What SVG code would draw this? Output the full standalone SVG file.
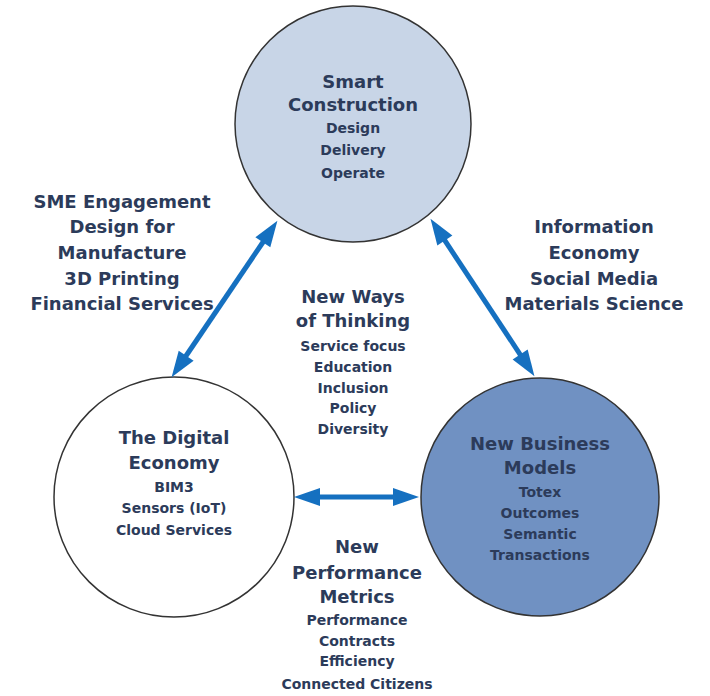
<svg xmlns="http://www.w3.org/2000/svg" width="710" height="696" viewBox="0 0 710 696">
<style>
text{font-family:"DejaVu Sans","Liberation Sans",sans-serif;font-weight:bold;fill:#2c3b5a;text-anchor:middle}
.b{font-size:18px}
.s{font-size:14px}
.c{stroke:#333;stroke-width:1.5}
.a{stroke:#1570c0;stroke-width:5;fill:none;marker-start:url(#ah);marker-end:url(#ah)}
</style>
<defs>
<marker id="ah" markerUnits="userSpaceOnUse" markerWidth="30" markerHeight="20" refX="1" refY="0" orient="auto-start-reverse" overflow="visible">
<path d="M0,-9 L26,0 L0,9 Z" fill="#1570c0"/>
</marker>
</defs>
<rect width="710" height="696" fill="#fff"/>
<g id="smart-construction">
<circle class="c" cx="353" cy="124" r="118" fill="#c8d5e7"/>
<text class="b" x="353" y="88">Smart</text>
<text class="b" x="353" y="111">Construction</text>
<text class="s" x="353" y="133">Design</text>
<text class="s" x="353" y="155">Delivery</text>
<text class="s" x="353" y="178">Operate</text>
</g>
<g id="digital-economy">
<circle class="c" cx="174" cy="497" r="120" fill="#fff"/>
<text class="b" x="174" y="444">The Digital</text>
<text class="b" x="174" y="469">Economy</text>
<text class="s" x="174" y="492">BIM3</text>
<text class="s" x="174" y="513">Sensors (IoT)</text>
<text class="s" x="174" y="535">Cloud Services</text>
</g>
<g id="new-business-models">
<circle class="c" cx="540" cy="497" r="119" fill="#7091c2"/>
<text class="b" x="540" y="450">New Business</text>
<text class="b" x="540" y="474">Models</text>
<text class="s" x="540" y="497">Totex</text>
<text class="s" x="540" y="518">Outcomes</text>
<text class="s" x="540" y="539">Semantic</text>
<text class="s" x="540" y="560">Transactions</text>
</g>
<g id="sme-label">
<text class="b" x="122" y="208">SME Engagement</text>
<text class="b" x="122" y="233">Design for</text>
<text class="b" x="122" y="259">Manufacture</text>
<text class="b" x="122" y="285">3D Printing</text>
<text class="b" x="122" y="310">Financial Services</text>
</g>
<g id="info-label">
<text class="b" x="594" y="233">Information</text>
<text class="b" x="594" y="259">Economy</text>
<text class="b" x="594" y="285">Social Media</text>
<text class="b" x="594" y="310">Materials Science</text>
</g>
<g id="thinking-label">
<text class="b" x="353" y="303">New Ways</text>
<text class="b" x="353" y="327">of Thinking</text>
<text class="s" x="353" y="351">Service focus</text>
<text class="s" x="353" y="372">Education</text>
<text class="s" x="353" y="393">Inclusion</text>
<text class="s" x="353" y="413">Policy</text>
<text class="s" x="353" y="434">Diversity</text>
</g>
<g id="metrics-label">
<text class="b" x="357" y="553">New</text>
<text class="b" x="357" y="579">Performance</text>
<text class="b" x="357" y="603">Metrics</text>
<text class="s" x="357" y="625">Performance</text>
<text class="s" x="357" y="646">Contracts</text>
<text class="s" x="357" y="666">Efficiency</text>
<text class="s" x="357" y="689">Connected Citizens</text>
</g>
<g id="connectors">
<line class="a" x1="263.4" y1="241.5" x2="185.6" y2="356.5"/>
<line class="a" x1="444.3" y1="239.7" x2="520.7" y2="355.3"/>
<line class="a" x1="319" y1="497" x2="394" y2="497"/>
</g>
</svg>
